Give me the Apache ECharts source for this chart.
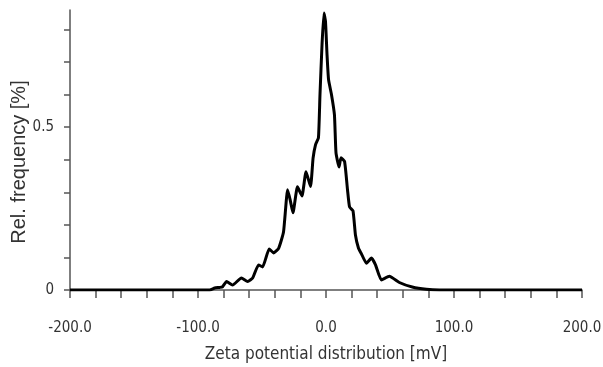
<!DOCTYPE html>
<html>
<head>
<meta charset="utf-8">
<script src="https://cdn.jsdelivr.net/npm/echarts@6/dist/echarts.min.js"></script>
<style>html,body{margin:0;padding:0;background:#fff}#c{width:603px;height:367px}</style>
</head>
<body>
<div id="c"></div>
<script>
// Zeta potential (mV)
const zeta = [-200, -150, -100, -90.9, -87, -83, -80.8, -77.7, -73, -66.1, -61.2, -57.3, -52.7, -49.5, -44.4, -40.9, -37, -33.2, -30, -28, -25.8, -22.3, -18.8, -15.6, -12.1, -10.1, -8.2, -5.9, -4.7, -3.1, -1.6, -0.4, 0.8, 2, 4.3, 6.6, 7.8, 10.2, 11.7, 14.5, 16.8, 18.4, 21.1, 23, 25.4, 27.7, 31.6, 35.5, 38.6, 43.3, 49.5, 57.3, 67.4, 78.4, 88.6, 150, 200];
// Relative frequency (%)
const freq = [0, 0, 0, 0, 0.006, 0.008, 0.010, 0.026, 0.015, 0.037, 0.026, 0.037, 0.077, 0.071, 0.126, 0.114, 0.128, 0.178, 0.308, 0.277, 0.237, 0.317, 0.289, 0.363, 0.318, 0.405, 0.446, 0.468, 0.600, 0.754, 0.851, 0.825, 0.723, 0.646, 0.600, 0.538, 0.422, 0.378, 0.406, 0.395, 0.308, 0.255, 0.243, 0.169, 0.128, 0.111, 0.082, 0.098, 0.078, 0.031, 0.042, 0.023, 0.009, 0.002, 0, 0, 0];
const yTicks = [0, 0.1, 0.2, 0.3, 0.4, 0.5, 0.6, 0.7, 0.8];
const yLabels = [0, 0.5];
const xLabelStep = 100;

const chart = echarts.init(document.getElementById('c'));
const cond = "'DejaVu Sans Condensed', 'DejaVu Sans', sans-serif";
chart.setOption({
  animation: false,
  grid: { left: 70, right: 21, top: 10, bottom: 77, containLabel: false, outerBoundsMode: 'none' },
  xAxis: {
    type: 'value', min: -200, max: 200, interval: 20,
    name: 'Zeta potential distribution [mV]', nameLocation: 'middle', nameGap: 56, nameMoveOverlap: false,
    nameTextStyle: { fontFamily: cond, fontSize: 17, color: '#333' },
    axisLine: { onZero: false, lineStyle: { color: '#555', width: 1.5 } },
    axisTick: { show: true, length: 8, lineStyle: { color: '#555', width: 1.5 } },
    axisLabel: {
      margin: 31, fontFamily: cond, fontSize: 15, color: '#333',
      formatter: v => (Math.round(v) % xLabelStep === 0 ? v.toFixed(1) : '')
    },
    splitLine: { show: false }
  },
  yAxis: {
    type: 'value', min: 0, max: 0.86,
    name: 'Rel. frequency [%]', nameLocation: 'middle', nameGap: 41, nameRotate: 90, nameMoveOverlap: false,
    nameTextStyle: { fontFamily: 'Liberation Sans, Arial, sans-serif', fontSize: 20, color: '#333', padding: [0, 24, 0, 0] },
    axisLine: { show: true, onZero: false, lineStyle: { color: '#555', width: 1.5 } },
    axisTick: { show: true, length: 6, customValues: yTicks, lineStyle: { color: '#555', width: 1.5 } },
    axisLabel: {
      margin: 16, fontFamily: cond, fontSize: 15, color: '#333', customValues: yLabels,
      formatter: v => (v === 0 ? '0' : String(v))
    },
    splitLine: { show: false }
  },
  series: [{
    type: 'line',
    data: zeta.map((x, i) => [x, freq[i]]),
    showSymbol: false, smooth: 0.15,
    lineStyle: { color: '#000', width: 3 },
    z: 5
  }]
});
</script>
</body>
</html>
